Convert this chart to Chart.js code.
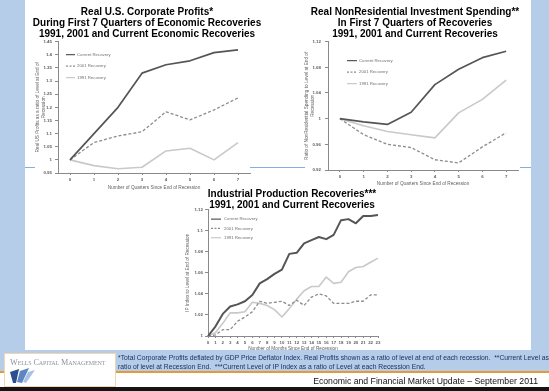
<!DOCTYPE html>
<html>
<head>
<meta charset="utf-8">
<script src="https://cdn.jsdelivr.net/npm/chart.js@4.4.1/dist/chart.umd.min.js"></script>
<style>
  html, body { margin: 0; padding: 0; background: #ffffff; }
  #page { position: relative; width: 549px; height: 391px; overflow: hidden;
          background: #b6cde9; font-family: "Liberation Sans", Arial, sans-serif; }
  .abs { position: absolute; }
  .panel { left: 25px; top: 0; width: 506px; height: 350px; background: #ffffff; }
  .rule { height: 1px; background: #86aee0; top: 167px; }
  .title { font-weight: bold; font-size: 10px; line-height: 11.2px; color: #000;
           text-align: center; white-space: nowrap; transform: translateX(-50%); }
  canvas.chart { position: absolute; filter: blur(0.3px); }
  .lower { left: 0; top: 372px; width: 549px; height: 19px; background: #ffffff; }
  .orange { left: 0; top: 371px; width: 549px; height: 2px; background: #e39b3a; }
  .black { left: 0; top: 387px; width: 549px; height: 4px; background: #141414; }
  .logo { left: 4px; top: 353px; width: 110px; height: 32px; background: #ffffff;
          border: 1px solid #f1d7ab; }
  .logotext { left: 5px; top: 4px; font-family: "Liberation Serif", "DejaVu Serif", serif;
              font-variant: small-caps; font-size: 8.2px; color: #8e939c; white-space: nowrap;
              letter-spacing: -0.1px; }
  .note { left: 118px; top: 353px; font-size: 6.75px; line-height: 9px; color: #1c2b5c;
          white-space: nowrap; }
  .update { right: 11px; top: 376px; font-size: 8.7px; color: #111; white-space: nowrap; }
</style>
</head>
<body>
<div id="page">
  <div class="abs panel"></div>
  <div class="abs rule" style="left:25px;width:10px"></div>
  <div class="abs rule" style="left:250px;width:55px"></div>
  <div class="abs rule" style="left:520px;width:11px"></div>

  <canvas id="profits" class="chart" width="225" height="160" style="left:30px;top:36px"></canvas>
  <canvas id="invest" class="chart" width="225" height="160" style="left:298px;top:35px"></canvas>
  <canvas id="ip" class="chart" width="210" height="150" style="left:180px;top:205px"></canvas>

  <div class="abs title" style="left:147px;top:6px">Real U.S. Corporate Profits*<br>During First 7 Quarters of Economic Recoveries<br>1991, 2001 and Current Economic Recoveries</div>
  <div class="abs title" style="left:415px;top:6px">Real NonResidential Investment Spending**<br>In First 7 Quarters of Recoveries<br>1991, 2001 and Current Recoveries</div>
  <div class="abs title" style="left:292px;top:187.5px;line-height:11px">Industrial Production Recoveries***<br>1991, 2001 and Current Recoveries</div>

  <div class="abs lower"></div>
  <div class="abs orange"></div>
  <div class="abs black"></div>
  <div class="abs note">*Total Corporate Profits deflated by GDP Price Deflator Index. Real Profits shown as a ratio of level at end of each recession.&nbsp; **Current Level as<br>ratio of level at Recession End.&nbsp; ***Current Level of IP Index as a ratio of Level at each Recession End.</div>
  <div class="abs update">Economic and Financial Market Update &ndash; September 2011</div>
  <div class="abs logo">
    <div class="abs logotext">Wells Capital Management</div>
    <svg class="abs" style="left:5px;top:14px" width="26" height="16" viewBox="0 0 26 16">
      <polygon points="0,4 9,1 6,15 3,15" fill="#2d4f8e"/>
      <polygon points="7,14 10,3 19,0 12,15" fill="#5f86c4"/>
      <polygon points="13,14 18,4 25,2 16,15" fill="#a9c1e3"/>
    </svg>
  </div>
</div>

<script>
// Series names shared by all three panels
const seriesNames = ['Current Recovery', '2001 Recovery', '1991 Recovery'];

// Real U.S. corporate profits, ratio to level at end of recession (quarters 0-7)
const quarters = ['0', '1', '2', '3', '4', '5', '6', '7'];
const profitsCurrent = [1.000, 1.100, 1.200, 1.330, 1.362, 1.377, 1.408, 1.419];
const profits2001    = [1.000, 1.066, 1.091, 1.107, 1.183, 1.152, 1.190, 1.236];
const profits1991    = [1.000, 0.978, 0.966, 0.972, 1.034, 1.044, 1.000, 1.066];
const profitTicks  = [0.95, 1.00, 1.05, 1.10, 1.15, 1.20, 1.25, 1.30, 1.35, 1.40, 1.45];
const profitLabels = ['0.95', '1', '1.05', '1.1', '1.15', '1.2', '1.25', '1.3', '1.35', '1.4', '1.45'];

// Real nonresidential investment spending, ratio to level at recession end
const investCurrent = [1.000, 0.995, 0.991, 1.010, 1.053, 1.077, 1.095, 1.105];
const invest2001    = [1.000, 0.975, 0.960, 0.955, 0.936, 0.931, 0.956, 0.978];
const invest1991    = [1.000, 0.989, 0.980, 0.975, 0.970, 1.009, 1.030, 1.060];
const investTicks  = [0.92, 0.96, 1.00, 1.04, 1.08, 1.12];
const investLabels = ['0.92', '0.96', '1', '1.04', '1.08', '1.12'];

// Industrial production index, ratio to level at recession end (months 0-23)
const months = ['0', '1', '2', '3', '4', '5', '6', '7', '8', '9', '10', '11',
                '12', '13', '14', '15', '16', '17', '18', '19', '20', '21', '22', '23'];
const ipCurrent = [1.000, 1.009, 1.021, 1.028, 1.030, 1.033, 1.039, 1.050, 1.054, 1.059, 1.063, 1.078,
                   1.079, 1.088, 1.091, 1.094, 1.092, 1.096, 1.110, 1.111, 1.107, 1.114, 1.114, 1.115];
const ip2001    = [1.000, 1.001, 1.006, 1.006, 1.014, 1.018, 1.023, 1.033, 1.031, 1.032, 1.033, 1.029,
                   1.034, 1.029, 1.037, 1.040, 1.038, 1.031, 1.031, 1.031, 1.033, 1.033, 1.039, 1.039];
const ip1991    = [1.000, 1.003, 1.012, 1.022, 1.022, 1.023, 1.032, 1.031, 1.029, 1.025, 1.018, 1.026,
                   1.035, 1.043, 1.047, 1.047, 1.056, 1.050, 1.051, 1.061, 1.065, 1.066, 1.070, 1.074];
const ipTicks  = [1.00, 1.02, 1.04, 1.06, 1.08, 1.10, 1.12];
const ipLabels = ['1', '1.02', '1.04', '1.06', '1.08', '1.1', '1.12'];

const FAMILY = '"Liberation Sans", Arial, sans-serif';
const AXIS = '#8a8a8a';
const INK = '#5e5e5e';

// Small legend drawn inside the plot area, using each dataset's own stroke style
const insetLegend = {
  id: 'insetLegend',
  afterDatasetsDraw(chart, args, o) {
    const { ctx, chartArea } = chart;
    ctx.save();
    chart.data.datasets.forEach((ds, i) => {
      const x = chartArea.left + o.x;
      const y = chartArea.top + o.y + i * o.gap;
      ctx.strokeStyle = ds.borderColor;
      ctx.lineWidth = Math.min(ds.borderWidth, 1.2);
      ctx.setLineDash(ds.borderDash ? [2, 1.5] : []);
      ctx.beginPath();
      ctx.moveTo(x, y);
      ctx.lineTo(x + o.len, y);
      ctx.stroke();
      ctx.setLineDash([]);
      ctx.fillStyle = '#707070';
      ctx.font = o.size + 'px ' + FAMILY;
      ctx.textBaseline = 'middle';
      ctx.textAlign = 'left';
      ctx.fillText(ds.label, x + o.len + o.textGap, y);
    });
    ctx.restore();
  }
};

function series(current, r2001, r1991, wide) {
  return [
    { label: seriesNames[0], data: current, borderColor: '#555555', borderWidth: wide ? 2.0 : 1.7 },
    { label: seriesNames[1], data: r2001, borderColor: '#8c8c8c', borderWidth: 1.3, borderDash: [3, 2] },
    { label: seriesNames[2], data: r1991, borderColor: '#c9c9c9', borderWidth: 1.6 }
  ];
}

function lineChart(id, labels, datasets, g) {
  return new Chart(document.getElementById(id), {
    type: 'line',
    data: { labels, datasets },
    options: {
      responsive: false,
      animation: false,
      devicePixelRatio: 1,
      layout: { padding: g.padding },
      elements: {
        point: { radius: 0, hoverRadius: 0 },
        line: { tension: 0, borderJoinStyle: 'round', borderCapStyle: 'butt', fill: false }
      },
      plugins: {
        legend: { display: false },
        tooltip: { enabled: false },
        insetLegend: g.legend
      },
      scales: {
        x: {
          type: 'category',
          offset: g.offset,
          grid: { display: true, drawOnChartArea: false, drawTicks: true, tickLength: 2, color: AXIS },
          border: { display: true, color: AXIS, width: 1 },
          ticks: { autoSkip: false, maxRotation: 0, padding: 2.5, color: INK,
                   font: { family: FAMILY, size: 4.4, weight: 'bold' } },
          title: { display: true, text: g.xTitle, color: INK,
                   font: { family: FAMILY, size: 4.7, lineHeight: 1.1 },
                   padding: { top: 0, bottom: g.xTitlePad } },
          afterFit: s => { s.height = g.xHeight; }
        },
        y: {
          type: 'linear',
          min: g.ticks[0],
          max: g.ticks[g.ticks.length - 1],
          afterBuildTicks: s => { s.ticks = g.ticks.map(v => ({ value: v })); },
          grid: { display: true, drawOnChartArea: false, drawTicks: true, tickLength: 3, color: AXIS },
          border: { display: true, color: AXIS, width: 1 },
          ticks: { padding: g.yPad, color: INK, font: { family: FAMILY, size: 4.4, weight: 'bold' },
                   callback: (v, i) => g.tickLabels[i] },
          title: { display: true, text: g.yTitle, color: INK,
                   font: { family: FAMILY, size: 4.7, lineHeight: 1.15 },
                   padding: { top: g.yTitlePad, bottom: 0 } },
          afterFit: s => { s.width = g.yWidth; }
        }
      }
    },
    plugins: [insetLegend]
  });
}

lineChart('profits', quarters, series(profitsCurrent, profits2001, profits1991, false), {
  padding: { left: 0, top: 5, right: 5, bottom: 3 },
  offset: true,
  ticks: profitTicks, tickLabels: profitLabels,
  xTitle: 'Number of Quarters Since End of Recession', xHeight: 20, xTitlePad: 2.5,
  yTitle: ['Real US Profits as a ratio of Level at End of', 'Recession'], yWidth: 28, yTitlePad: 5.3, yPad: 3,
  legend: { x: 8, y: 13, gap: 11.5, len: 9, textGap: 2, size: 4.3 }
});

lineChart('invest', quarters, series(investCurrent, invest2001, invest1991, false), {
  padding: { left: 0, top: 5, right: 5, bottom: 5 },
  offset: true,
  ticks: investTicks, tickLabels: investLabels,
  xTitle: 'Number of Quarters Since End of Recession', xHeight: 20, xTitlePad: 3.5,
  yTitle: ['Ratio of NonResidential Spending to Level at End of', 'Recession'], yWidth: 30, yTitlePad: 6.3, yPad: 4,
  legend: { x: 19, y: 19, gap: 11.5, len: 10, textGap: 2, size: 4.3 }
});

lineChart('ip', months, series(ipCurrent, ip2001, ip1991, true), {
  padding: { left: 0, top: 4, right: 12, bottom: 3 },
  offset: false,
  ticks: ipTicks, tickLabels: ipLabels,
  xTitle: 'Number of Months Since End of Recession', xHeight: 16, xTitlePad: 0.8,
  yTitle: 'IP Index to Level at End of Recession', yWidth: 28, yTitlePad: 5.5, yPad: 2,
  legend: { x: 3, y: 9.5, gap: 9.3, len: 10, textGap: 3, size: 4.3 }
});
</script>
</body>
</html>
